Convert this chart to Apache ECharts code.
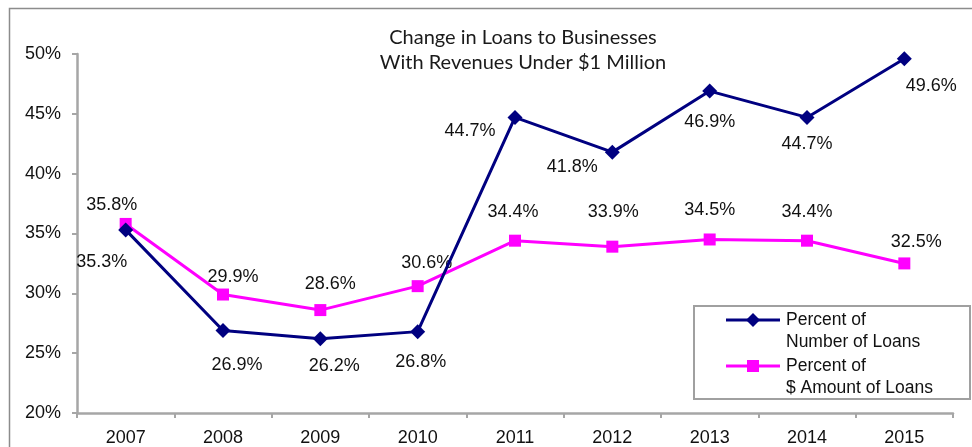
<!DOCTYPE html>
<html>
<head>
<meta charset="utf-8">
<style>
  html, body { margin: 0; padding: 0; background: #fff; }
  #chart { width: 972px; height: 447px; }
</style>
<script src="https://cdn.jsdelivr.net/npm/echarts@6/dist/echarts.min.js"></script>
</head>
<body>
<div id="chart"></div>
<script>
// Years on the category axis
const years = ['2007', '2008', '2009', '2010', '2011', '2012', '2013', '2014', '2015'];
// Share of loans (in %) going to businesses with revenues under $1 million
const pctNumberOfLoans = [35.3, 26.9, 26.2, 26.8, 44.7, 41.8, 46.9, 44.7, 49.6];
const pctAmountOfLoans = [35.8, 29.9, 28.6, 30.6, 34.4, 33.9, 34.5, 34.4, 32.5];
// Value-axis ticks
const yTicks = [20, 25, 30, 35, 40, 45, 50];

// Where each value label sits relative to its point (px)
const numberLabelOffsets = [[-24, 32], [14, 35], [14, 27], [3, 30], [-45, 14], [-40, 15], [0, 31], [0, 27], [27, 27]];
const amountLabelOffsets = [[-14, -19], [10, -17], [10, -26], [9, -23], [-2, -29], [1, -35], [0, -29], [0, -29], [12, -21]];

const NAVY = '#000080';
const MAGENTA = '#ff00ff';
const AXIS_GRAY = '#a6a6a6';
const LABEL_FONT = { fontFamily: '"Liberation Sans", Arial, sans-serif', fontSize: 18, color: '#111' };

function withLabels(values, offsets) {
  return values.map((v, i) => ({
    value: v,
    label: { show: true, position: 'inside', offset: offsets[i], formatter: v.toFixed(1) + '%', ...LABEL_FONT }
  }));
}

const chart = echarts.init(document.getElementById('chart'), null, { renderer: 'canvas' });

chart.setOption({
  animation: false,
  backgroundColor: '#fff',
  grid: { left: 77, right: 19, top: 54, bottom: 34, containLabel: false },
  xAxis: {
    type: 'category',
    data: years,
    boundaryGap: true,
    axisLine: { lineStyle: { color: AXIS_GRAY, width: 2.5 } },
    axisTick: { show: true, length: 5, lineStyle: { color: AXIS_GRAY, width: 2 } },
    axisLabel: { ...LABEL_FONT, margin: 16 }
  },
  yAxis: {
    type: 'value',
    min: yTicks[0],
    max: yTicks[yTicks.length - 1],
    interval: 5,
    axisLine: { show: true, lineStyle: { color: AXIS_GRAY, width: 2.5 } },
    axisTick: { show: true, length: 5, lineStyle: { color: AXIS_GRAY, width: 2 } },
    splitLine: { show: false },
    axisLabel: { ...LABEL_FONT, margin: 16, formatter: v => v + '%' }
  },
  graphic: [
    // chart frame
    { type: 'rect', shape: { x: 9.5, y: 8.5, width: 1000, height: 500 }, style: { fill: 'none', stroke: '#8c8c8c', lineWidth: 1.5 }, silent: true, z: -1 },
    // title
    {
      type: 'text', x: 523, y: 25, style: {
        text: 'Change in Loans to Businesses\nWith Revenues Under $1 Million',
        align: 'center', fontFamily: 'Lato, "Open Sans", sans-serif', fontSize: 20, lineHeight: 25, fill: '#1a1a1a'
      }
    },
    // legend box
    { type: 'rect', shape: { x: 694, y: 306, width: 276, height: 93 }, style: { fill: '#fff', stroke: '#a0a0a0', lineWidth: 2 }, z: 10 },
    { type: 'line', shape: { x1: 726, y1: 320, x2: 780, y2: 320 }, style: { stroke: NAVY, lineWidth: 3 }, z: 11 },
    { type: 'polygon', shape: { points: [[753, 313], [760, 320], [753, 327], [746, 320]] }, style: { fill: NAVY }, z: 11 },
    { type: 'text', x: 786, y: 309, style: { text: 'Percent of\nNumber of Loans', ...LABEL_FONT, fill: '#111', fontSize: 17.5, lineHeight: 22 }, z: 11 },
    { type: 'line', shape: { x1: 726, y1: 366, x2: 780, y2: 366 }, style: { stroke: MAGENTA, lineWidth: 3 }, z: 11 },
    { type: 'rect', shape: { x: 747, y: 360, width: 12, height: 12 }, style: { fill: MAGENTA }, z: 11 },
    { type: 'text', x: 786, y: 355, style: { text: 'Percent of\n$ Amount of Loans', ...LABEL_FONT, fill: '#111', fontSize: 17.5, lineHeight: 22 }, z: 11 }
  ],
  series: [
    {
      name: 'Percent of Number of Loans',
      type: 'line',
      data: withLabels(pctNumberOfLoans, numberLabelOffsets),
      symbol: 'diamond',
      symbolSize: 15,
      lineStyle: { color: NAVY, width: 3 },
      itemStyle: { color: NAVY },
      z: 3
    },
    {
      name: 'Percent of $ Amount of Loans',
      type: 'line',
      data: withLabels(pctAmountOfLoans, amountLabelOffsets),
      symbol: 'rect',
      symbolSize: 12,
      lineStyle: { color: MAGENTA, width: 3 },
      itemStyle: { color: MAGENTA },
      z: 2
    }
  ]
});
</script>
</body>
</html>
